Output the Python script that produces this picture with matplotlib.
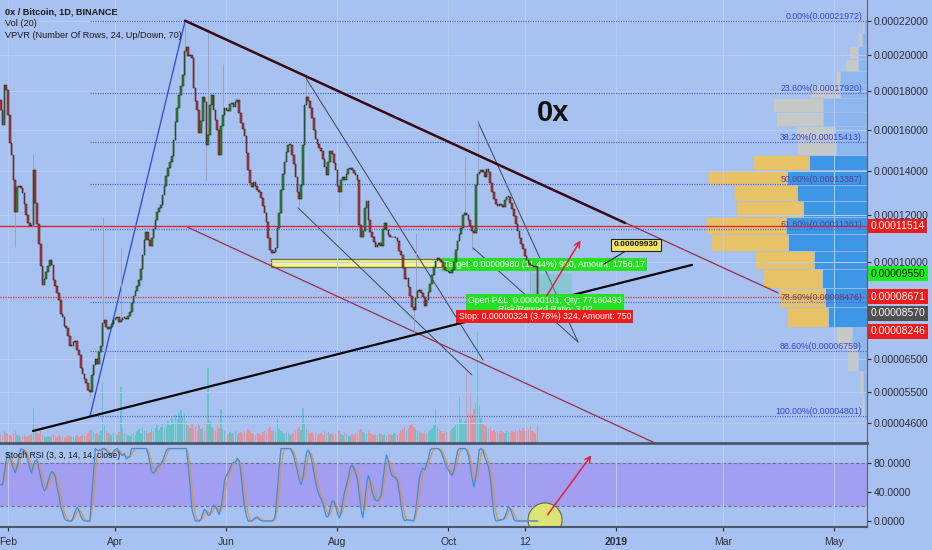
import numpy as np
import pandas as pd
import matplotlib
matplotlib.use('Agg')
import matplotlib.pyplot as plt
import matplotlib.dates as mdates
from matplotlib.patches import Ellipse, Rectangle
from matplotlib.ticker import NullLocator

plt.rcParams['font.family'] = ['Liberation Sans', 'DejaVu Sans']

SAT = 1e-8
start = pd.Timestamp('2018-01-28')

# daily closes 0x/BTC in satoshi, 28 Jan -> 19 Nov 2018
first_open = 17550
close = [
    17020, 16250, 18350, 18080, 16760, 15340, 14760, 13565, 12120, 13240,
    13290, 13200, 12970, 12470, 11990, 11640, 11510, 11550, 14040, 12520,
    11600, 10750, 9860, 9120, 9350, 9620, 9860, 10094, 9900, 9307,
    9080, 8820, 8551, 8040, 7940, 7620, 7550, 7270, 6940, 6940,
    7070, 7100, 6800, 6640, 6220, 6040, 5880, 5760, 5550, 5490,
    6000, 6320, 6510, 6350, 6740, 6940, 7720, 7830, 7590, 7520,
    7590, 7690, 7830, 7900, 7940, 7760, 7830, 7900, 7900, 7860,
    7970, 8120, 8440, 8700, 8890, 9080, 9307, 9740, 10300, 10914,
    11250, 10914, 10670, 11000, 11380, 11765, 12120, 12300, 12430, 12880,
    13290, 13750, 14130, 14420, 14710, 15491, 16400, 17130, 17820, 18300,
    18900, 20220, 20440, 19960, 20010, 19840, 18190, 17490, 17020, 15840,
    16450, 17710, 17440, 15250, 15740, 17290, 17820, 17020, 16500, 16000,
    14760, 16200, 16760, 17130, 17020, 16970, 17340, 17390, 17180, 17440,
    17550, 16870, 16350, 16050, 15690, 14850, 14040, 13430, 13240, 13470,
    13290, 13110, 13020, 12740, 12380, 12080, 11680, 11000, 10500, 10380,
    10420, 10590, 11420, 12080, 13110, 13850, 14420, 14900, 15250, 15250,
    14760, 14320, 13710, 13020, 12700, 13340, 15250, 17290, 17710, 17490,
    17130, 16610, 16000, 15540, 15300, 15100, 14950, 14560, 14180, 13800,
    14420, 14950, 14800, 14370, 14040, 13290, 13020, 13570, 13710, 13570,
    13850, 14090, 14130, 14040, 13900, 13800, 13570, 11550, 11040, 11300,
    12300, 12600, 11770, 11250, 11040, 10830, 10630, 10710, 10790, 10670,
    11380, 11640, 11340, 11130, 11040, 11040, 11040, 11000, 10870, 10460,
    10300, 9780, 9350, 9390, 9040, 8700, 8300, 8190, 8630, 8890,
    8930, 8820, 8660, 8330, 8550, 8850, 9160, 9500, 9820, 10050,
    10180, 10090, 10020, 9820, 9700, 9660, 9620, 9580, 9700, 10020,
    10500, 10870, 11170, 11420, 11990, 12080, 11990, 11770, 11510, 11300,
    11210, 13340, 13850, 13940, 14040, 13940, 13710, 14090, 13940, 13430,
    13020, 12700, 12470, 12380, 12470, 12430, 12340, 12650, 12790, 12790,
    12520, 12250, 11940, 11600, 11300, 11000, 10750, 10550, 10260, 10090,
    9980, 9900, 9860, 9820, 9820, 8570,
]
# long wicks (candle index -> price in sat)
wick_high = {18: 14800, 56: 11890, 66: 10630, 101: 21972, 114: 21530, 122: 19500,
             168: 18620, 228: 11200, 255: 14650, 262: 16400}
wick_low = {8: 10630, 49: 5340, 113: 13570, 164: 12380, 186: 12080, 227: 7370,
            259: 10500, 291: 8820}

volume = [
    9, 8, 12, 10, 9, 8, 7, 10, 12, 8, 7, 6, 7, 8, 6, 7, 8, 9, 35, 12,
    10, 9, 12, 8, 7, 6, 7, 6, 8, 9, 7, 6, 8, 6, 7, 5, 6, 8, 7, 6,
    6, 7, 8, 6, 7, 9, 8, 7, 10, 12, 14, 11, 9, 10, 8, 12, 61, 18, 12, 10,
    9, 8, 10, 9, 8, 11, 56, 15, 10, 9, 8, 7, 9, 10, 8, 12, 14, 10, 16, 13,
    12, 10, 11, 14, 12, 15, 18, 13, 16, 20, 15, 17, 22, 18, 25, 20, 28, 24, 30, 33,
    26, 30, 22, 18, 15, 20, 14, 16, 12, 18, 14, 15, 12, 20, 75, 22, 16, 14, 12, 18,
    15, 34, 14, 12, 10, 9, 11, 10, 9, 12, 8, 10, 11, 9, 12, 10, 14, 12, 10, 9,
    8, 10, 9, 8, 11, 12, 10, 14, 16, 12, 13, 11, 25, 14, 12, 10, 9, 11, 10, 8,
    9, 10, 12, 14, 16, 13, 35, 20, 14, 12, 10, 11, 9, 10, 8, 9, 10, 8, 12, 10,
    11, 9, 10, 8, 9, 10, 12, 9, 8, 10, 9, 8, 7, 9, 8, 10, 9, 12, 14, 11,
    10, 9, 12, 10, 9, 8, 9, 8, 10, 9, 8, 9, 7, 8, 9, 8, 10, 9, 8, 10,
    12, 14, 16, 13, 15, 18, 20, 16, 14, 12, 11, 10, 9, 12, 10, 11, 13, 15, 18, 34,
    16, 14, 12, 10, 12, 11, 10, 12, 14, 16, 18, 20, 46, 24, 20, 22, 71, 30, 50, 28,
    34, 40, 111, 38, 25, 20, 18, 16, 14, 15, 12, 13, 11, 12, 10, 12, 11, 10, 12, 11,
    10, 12, 11, 13, 12, 14, 12, 15, 13, 12, 14, 16, 12, 11, 10, 18,
]

# volume profile, 24 rows bottom -> top
vp_low, vp_high = 4692, 21972
vp_down = [2, 4, 11, 16, 41, 46, 59, 59, 77, 80, 67, 63, 79, 56, 39, 39, 47, 50, 30, 4, 13, 9, 4, 2]
vp_up = [3, 4, 9, 15, 39, 42, 45, 53, 79, 81, 64, 70, 80, 58, 31, 32, 44, 44, 27, 27, 9, 9, 5, 3]
vp_in_value_area = [False] * 4 + [True] * 10 + [False] * 10

fib_pct = [0.0, 23.6, 38.2, 50.0, 61.8, 78.6, 88.6, 100.0]
fib_price = [21972, 17920, 15413, 13387, 11361, 8476, 6759, 4801]
fib_start = 49.1

price_ticks = [22000, 20000, 18000, 16000, 14000, 12000, 10000, 6500, 5500, 4600]
entry, target, stop = 8570, 9550, 8246
alert_red, alert_red2 = 11514, 8671

# drawings: (day offset from 28 Jan, price in sat)
trend_upper = [(101.3, 22000), (343.0, 11640)]
channel_top = [(101.3, 22000), (427.1, 8816)]
channel_bot = [(102.4, 11467), (359.5, 4080)]
trend_lower = [(17.75, 4393), (379.8, 9897)]
fib_leg = [(49.1, 4801), (101.3, 21972)]
wedges = [[(167.7, 18729), (265.0, 6475)], [(163.4, 12295), (258.9, 6005)],
          [(262.3, 16400), (317.2, 7069)], [(259.5, 10586), (317.2, 7069)]]
zone_box = [(148.5, 9818), (257.9, 10135)]

date_ticks = ['2018-02-01', '2018-04-01', '2018-06-01', '2018-08-01', '2018-10-01',
              '2018-11-12', '2019-01-01', '2019-03-01', '2019-05-01']
date_labels = ['Feb', 'Apr', 'Jun', 'Aug', 'Oct', '12', '2019', 'Mar', 'May']

BG = '#a7c1f0'
GRID = '#b8cdf4'

# ---------------------------------------------------------------
c = np.array(close, float)
o = np.r_[first_open, c[:-1]]
hi = np.maximum(o, c)
lo = np.minimum(o, c)
for k, v in wick_high.items():
    hi[k] = v
for k, v in wick_low.items():
    lo[k] = v
n = len(c)
x0 = mdates.date2num(start)
x = x0 + np.arange(n)
up = c >= o

s = pd.Series(c)
delta = s.diff()
gain = delta.clip(lower=0).ewm(alpha=1 / 14, adjust=False).mean()
loss = (-delta.clip(upper=0)).ewm(alpha=1 / 14, adjust=False).mean()
rsi = 100 - 100 / (1 + gain / loss)
rmin = rsi.rolling(14, min_periods=1).min()
rmax = rsi.rolling(14, min_periods=1).max()
stoch = ((rsi - rmin) / (rmax - rmin) * 100).fillna(50)
k_line = stoch.rolling(3, min_periods=1).mean()
d_line = k_line.rolling(3, min_periods=1).mean()

W, H = 932, 550
fig = plt.figure(figsize=(W / 100, H / 100), dpi=100)
fig.patch.set_facecolor(BG)


def px_rect(x_a, y_a, x_b, y_b):
    return [x_a / W, 1 - y_b / H, (x_b - x_a) / W, (y_b - y_a) / H]


ax = fig.add_axes(px_rect(0, 0, 867, 443))
ax.set_yscale('function', functions=(np.sqrt, np.square))
ax.set_ylim(4080 * SAT, 23244 * SAT)
xlim = (x0 - 0.385, x0 + 476.0)
ax.set_xlim(*xlim)

ax_vol = ax.twinx()
ax_vp = ax.twiny()
ax_vol.set_zorder(0)
ax_vp.set_zorder(1)
ax.set_zorder(2)
ax_vol.patch.set_visible(True)
ax_vol.patch.set_facecolor(BG)
ax.patch.set_visible(False)

# volume
vcol = np.where(up, '#66c4c6', '#e3939f')
ax_vol.bar(x, volume, width=0.8, color=vcol, linewidth=0)
ax_vol.set_ylim(0, max(volume) * 443 / 111)
ax_vol.set_yticks([])

# volume profile
edges = np.linspace(vp_low, vp_high, len(vp_up) + 1) * SAT
heights = np.diff(edges)
col_up = ['#3d97e6' if v else '#8db7ee' for v in vp_in_value_area]
col_dn = ['#e8c266' if v else '#c5c9c8' for v in vp_in_value_area]
ax_vp.barh(edges[:-1], vp_up, height=heights, align='edge', color=col_up, edgecolor=BG, linewidth=0.5)
ax_vp.barh(edges[:-1], vp_down, height=heights, left=vp_up, align='edge', color=col_dn,
           edgecolor=BG, linewidth=0.5)
tot = max(a + b for a, b in zip(vp_up, vp_down))
ax_vp.set_xlim(tot / 0.186, 0)
ax_vp.set_xticks([])
for a in (ax_vol, ax_vp):
    for sp in a.spines.values():
        sp.set_visible(False)

# grid
ax.set_yticks([p * SAT for p in price_ticks])
ax.yaxis.set_minor_locator(NullLocator())
ax.yaxis.set_major_formatter(plt.FuncFormatter(lambda v, _: f'{v:.8f}'))
ax.yaxis.tick_right()
tick_x = [mdates.date2num(pd.Timestamp(t)) for t in date_ticks]
ax.set_xticks(tick_x)
ax.tick_params(axis='x', length=0, labelbottom=False)
ax.tick_params(axis='y', labelsize=7.5, colors='#2b2f3a', length=3, pad=2)
ax.grid(True, color=GRID, lw=0.7, zorder=0)

# yellow zone
(zx0, zp0), (zx1, zp1) = zone_box
ax.add_patch(Rectangle((x0 + zx0, zp0 * SAT), zx1 - zx0, (zp1 - zp0) * SAT,
                       fc='#f0f28a', ec='#6f7030', lw=0.9, zorder=1))


def seg(pts, **kw):
    ax.plot([x0 + p[0] for p in pts], [p[1] * SAT for p in pts], solid_capstyle='round', **kw)


for w in wedges:
    seg(w, color='#3d4450', lw=0.7, zorder=2)
seg(channel_top, color='#9b2e4a', lw=0.9, zorder=2)
seg(channel_bot, color='#9b2e4a', lw=0.9, zorder=2)
seg(fib_leg, color='#2f46e0', lw=0.9, zorder=2)
seg(trend_upper, color='#3a0a14', lw=1.8, zorder=6)
seg(trend_lower, color='#080808', lw=1.6, zorder=6)

# horizontal levels
ax.axhline(alert_red * SAT, color='#e02a2a', lw=1.0, zorder=2)
ax.axhline(alert_red2 * SAT, color='#d83030', lw=0.9, ls=(0, (1, 1)), zorder=2)
for pct, pr in zip(fib_pct, fib_price):
    ax.hlines(pr * SAT, x0 + fib_start, xlim[1], color='#4f60e6', lw=0.8, ls=(0, (1, 1.2)), zorder=2)
    tc = '#5b3f8c' if pct in (50.0, 61.8, 78.6) else '#3346d6'
    ax.text(862 / 867, pr * SAT, f'{pct:.2f}%({pr * SAT:.8f})', transform=ax.get_yaxis_transform(),
            ha='right', va='bottom', fontsize=6.3, color=tc, zorder=7)

# position tool
pos_x0, pos_x1 = 292, 306
pos_c = x0 + (pos_x0 + pos_x1) / 2
ax.add_patch(Rectangle((x0 + pos_x0, entry * SAT), pos_x1 - pos_x0 + 8, (target - entry) * SAT,
                       fc='#4fd0a0', alpha=0.35, lw=0, zorder=3))
ax.add_patch(Rectangle((x0 + pos_x0, stop * SAT), pos_x1 - pos_x0 + 8, (entry - stop) * SAT,
                       fc='#e05050', alpha=0.3, lw=0, zorder=3))
ax.annotate('Target: 0.00000980 (11.44%) 980, Amount: 1756.17', (pos_c, target * SAT),
            xytext=(0, 6.5), textcoords='offset points', ha='center', va='center',
            fontsize=6.3, color='white', zorder=4,
            bbox=dict(boxstyle='square,pad=0.25', fc='#26e026', ec='none'))

# candles
ax.vlines(x, lo * SAT, hi * SAT, color='#9aa0aa', lw=0.6, zorder=5)
body = np.maximum(np.abs(c - o), 20)
ax.bar(x, body * SAT, bottom=np.minimum(o, c) * SAT, width=0.9,
       color=np.where(up, '#2f902f', '#cc3333'), edgecolor='#1a1a1a', linewidth=0.35, zorder=5)

ax.annotate('Open P&L: 0.00000101, Qty: 77160493\nRisk/Reward Ratio: 3.02', (pos_c, entry * SAT),
            xytext=(0, -4), textcoords='offset points', ha='center', va='center',
            fontsize=6.3, color='white', linespacing=0.95, zorder=7,
            bbox=dict(boxstyle='square,pad=0.25', fc='#26e026', ec='none'))
ax.annotate('Stop: 0.00000324 (3.78%) 324, Amount: 750', (pos_c, stop * SAT),
            xytext=(0, -6), textcoords='offset points', ha='center', va='center',
            fontsize=6.3, color='white', zorder=8,
            bbox=dict(boxstyle='square,pad=0.25', fc='#f01c1c', ec='none'))

# callout and arrow
ax.annotate('0.00009930', (x0 + 331.5, 9930 * SAT), xytext=(x0 + 349, 10709 * SAT),
            ha='center', va='center', fontsize=6, fontweight='bold', color='#111', zorder=8,
            bbox=dict(boxstyle='square,pad=0.3', fc='#f3e468', ec='#222', lw=0.8),
            arrowprops=dict(arrowstyle='-', color='#222', lw=0.8, shrinkA=0, shrinkB=0))
ax.annotate('', xy=(x0 + 319.4, 10996 * SAT), xytext=(x0 + 299.1, 8607 * SAT),
            arrowprops=dict(arrowstyle='->', color='#e0203c', lw=1.1), zorder=8)

ax.text(553 / 867, 1 - 113 / 443, '0x', transform=ax.transAxes, ha='center', va='center',
        fontsize=21, fontweight='bold', color='#111', zorder=8)
ax.text(5 / 867, 1 - 12 / 443, '0x / Bitcoin, 1D, BINANCE', transform=ax.transAxes,
        fontsize=6.6, fontweight='bold', color='#1a1a1a', va='center', zorder=8)
ax.text(5 / 867, 1 - 24 / 443, 'Vol (20)', transform=ax.transAxes,
        fontsize=6.6, color='#1a1a1a', va='center', zorder=8)
ax.text(5 / 867, 1 - 36 / 443, 'VPVR (Number Of Rows, 24, Up/Down, 70)', transform=ax.transAxes,
        fontsize=6.6, color='#1a1a1a', va='center', zorder=8)

# price scale labels
tags = [(alert_red, 0, '#f01c1c', 'white'), (target, 0, '#16f016', '#111'),
        (alert_red2, 0, '#f01c1c', 'white'), (entry, -10, '#505050', 'white'),
        (stop, -16.5, '#f01c1c', 'white')]
for pr, off, fc, tc in tags:
    ax.annotate(f'{pr * SAT:.8f}', (1, pr * SAT), xycoords=ax.get_yaxis_transform(),
                xytext=(2.5, off), textcoords='offset points', ha='left', va='center',
                fontsize=7.5, color=tc, annotation_clip=False, zorder=9,
                bbox=dict(boxstyle='square,pad=0.22', fc=fc, ec='none'))

for sp in ('top', 'left'):
    ax.spines[sp].set_visible(False)
ax.spines['right'].set_color('#59606e')
ax.spines['bottom'].set_color('#4c5869')
ax.spines['bottom'].set_linewidth(2)

# ---------------- Stoch RSI panel ----------------
ax_st = fig.add_axes(px_rect(0, 443, 867, 527))
ax_st.set_facecolor(BG)
ax_st.set_xlim(*xlim)
ax_st.set_ylim(-8.3, 107.6)
ax_st.axhspan(20, 80, color='#a29ef1', lw=0, zorder=0)
ax_st.set_xticks(tick_x)
ax_st.set_xticklabels(date_labels)
ax_st.set_yticks([0, 40, 80])
ax_st.yaxis.set_major_formatter(plt.FuncFormatter(lambda v, _: f'{v:.4f}'))
ax_st.yaxis.tick_right()
ax_st.tick_params(axis='y', labelsize=7.5, colors='#2b2f3a', length=3, pad=2)
ax_st.tick_params(axis='x', labelsize=7.5, colors='#2b2f3a', length=3, pad=4)
for lab in ax_st.get_xticklabels():
    if lab.get_text() == '2019':
        lab.set_fontweight('bold')
ax_st.grid(True, axis='x', color=GRID, lw=0.7, zorder=0)
for lvl in (20, 80):
    ax_st.axhline(lvl, color='#6e7386', lw=0.8, ls=(0, (3, 2)), zorder=1)
ax_st.add_patch(Ellipse((x0 + 299.1, 1.4), 18.7, 47, fc='#e4e86a', ec='#5a5a40', lw=0.8,
                        alpha=0.9, zorder=2))
ax_st.plot(x, d_line, color='#e8913a', lw=0.9, zorder=3)
ax_st.plot(x, k_line, color='#3a8de0', lw=0.9, zorder=3)
ax_st.annotate('', xy=(x0 + 325.5, 93.8), xytext=(x0 + 299.6, 5.5),
               arrowprops=dict(arrowstyle='->', color='#e0203c', lw=1.1), zorder=4)
ax_st.text(5 / 867, 1 - 12 / 84, 'Stoch RSI (3, 3, 14, 14, close)', transform=ax_st.transAxes,
           fontsize=6.2, color='#1a1a1a', va='center')
for sp in ('top', 'left'):
    ax_st.spines[sp].set_visible(False)
ax_st.spines['right'].set_color('#59606e')
ax_st.spines['bottom'].set_color('#4c5869')
ax_st.spines['bottom'].set_linewidth(1.5)

fig.savefig('out.png', dpi=100, facecolor=BG)
